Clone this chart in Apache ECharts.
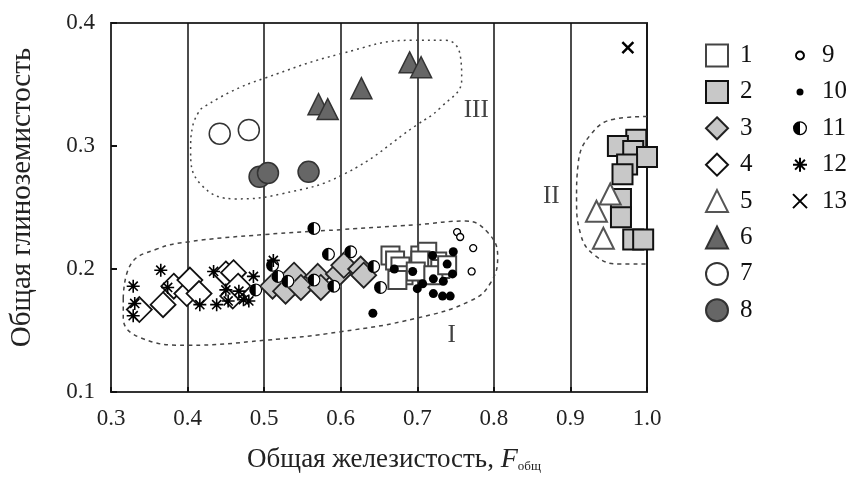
<!DOCTYPE html>
<html><head><meta charset="utf-8">
<script src="https://cdn.jsdelivr.net/npm/echarts@6/dist/echarts.min.js"></script>
<style>html,body{margin:0;padding:0;background:#fff}#c{width:846px;height:479px}</style>
</head><body><div id="c"></div>
<script>
const seriesNames = ['1','2','3','4','5','6','7','8','9','10','11','12','13'];
const s1 = [[0.665,0.211],[0.671,0.207],[0.678,0.202],[0.682,0.195],[0.704,0.211],[0.713,0.214],[0.704,0.207],[0.726,0.206],[0.730,0.200],[0.698,0.198],[0.721,0.195],[0.739,0.203],[0.674,0.191]];
const s2 = [[0.986,0.305],[0.962,0.300],[0.982,0.296],[1.000,0.291],[0.974,0.285],[0.968,0.277],[0.966,0.257],[0.966,0.242],[0.982,0.224],[0.995,0.224]];
const s3 = [[0.511,0.186],[0.528,0.182],[0.539,0.195],[0.548,0.185],[0.570,0.194],[0.574,0.185],[0.597,0.196],[0.604,0.203],[0.626,0.200],[0.630,0.195]];
const s4 = [[0.337,0.167],[0.368,0.171],[0.382,0.186],[0.399,0.180],[0.403,0.191],[0.415,0.180],[0.450,0.196],[0.460,0.197],[0.459,0.178],[0.466,0.186]];
const s5 = [[0.952,0.261],[0.934,0.247],[0.943,0.225]];
const s6 = [[0.571,0.334],[0.583,0.330],[0.627,0.347],[0.690,0.368],[0.705,0.364]];
const s7 = [[0.442,0.310],[0.480,0.313]];
const s8 = [[0.494,0.275],[0.505,0.278],[0.558,0.279]];
const s9 = [[0.752,0.230],[0.756,0.226],[0.773,0.217],[0.771,0.198]];
const s10 = [[0.670,0.200],[0.694,0.198],[0.720,0.211],[0.747,0.214],[0.739,0.204],[0.746,0.196],[0.721,0.192],[0.707,0.188],[0.700,0.184],[0.734,0.190],[0.721,0.180],[0.733,0.178],[0.743,0.178],[0.642,0.164]];
const s11 = [[0.565,0.233],[0.511,0.203],[0.518,0.194],[0.489,0.183],[0.531,0.190],[0.565,0.191],[0.584,0.212],[0.613,0.214],[0.591,0.186],[0.643,0.202],[0.652,0.185]];
const s12 = [[0.329,0.162],[0.331,0.172],[0.329,0.186],[0.365,0.199],[0.374,0.185],[0.416,0.171],[0.434,0.198],[0.438,0.171],[0.450,0.183],[0.453,0.174],[0.467,0.182],[0.473,0.175],[0.480,0.174],[0.486,0.194],[0.512,0.207]];
const s13 = [[0.975,0.380]];

const envelopeI = [[0.316,0.176],[0.326,0.204],[0.359,0.216],[0.400,0.222],[0.500,0.228],[0.600,0.232],[0.699,0.236],[0.763,0.239],[0.793,0.229],[0.805,0.210],[0.795,0.188],[0.769,0.174],[0.699,0.160],[0.600,0.149],[0.500,0.142],[0.400,0.138],[0.339,0.144],[0.316,0.160],[0.316,0.176]];
const envelopeII = [[1.000,0.324],[0.958,0.322],[0.926,0.309],[0.910,0.285],[0.908,0.257],[0.913,0.229],[0.932,0.211],[0.965,0.204],[1.000,0.204]];
const envelopeIII = [[0.417,0.330],[0.456,0.344],[0.500,0.355],[0.600,0.375],[0.695,0.386],[0.737,0.386],[0.756,0.374],[0.758,0.354],[0.730,0.331],[0.699,0.317],[0.604,0.277],[0.522,0.261],[0.463,0.257],[0.417,0.269],[0.404,0.297],[0.407,0.317],[0.417,0.330]];
const regionLabels = [{name:'I', value:[0.745,0.146]},{name:'II', value:[0.875,0.259]},{name:'III', value:[0.777,0.329]}];

const SERIF = '"Liberation Serif","DejaVu Serif",serif';
const HALF = 'path://M50 0A50 50 0 0 0 50 100Z M50 0A50 50 0 0 1 50 100L50 91A41 41 0 0 0 50 9Z';
const STAR = 'path://M0 50L100 50M50 0L50 100M15 15L85 85M15 85L85 15';
const CROSS = 'path://M0 0L100 100M0 100L100 0';

function sc(name, data, symbol, size, fill, border, bw, z) {
  return {type:'scatter', name:name, data:data, symbol:symbol, symbolSize:size, clip:false, z:z,
    itemStyle:{color:fill, borderColor:border, borderWidth:bw, opacity:1}, emphasis:{disabled:true}};
}
function env(data, dash) {
  return {type:'line', data:data, smooth:0.45, symbol:'none', z:1, silent:true,
    lineStyle:{color:'#444', width:1.5, type:dash}};
}

const chart = echarts.init(document.getElementById('c'), null, {renderer:'canvas'});
chart.setOption({
  animation:false,
  backgroundColor:'#fff',
  grid:{left:110, top:23, right:199, bottom:85, show:true, borderColor:'#333', borderWidth:2, backgroundColor:'transparent'},
  xAxis:{type:'value', min:0.3, max:1.0, interval:0.1,
    axisLine:{show:true, onZero:false, lineStyle:{color:'#333', width:2}},
    axisTick:{show:true, inside:true, length:5, lineStyle:{color:'#111', width:2}},
    splitLine:{show:true, lineStyle:{color:'#111', width:1.5}},
    axisLabel:{fontFamily:SERIF, fontSize:23, color:'#222', margin:15, formatter:v=>v.toFixed(1)},
    name:'{a|Общая железистость, }{f|F}{s|общ}', nameLocation:'middle', nameGap:54,
    nameTextStyle:{padding:[0,0,0,30], rich:{
      a:{fontFamily:SERIF, fontSize:27, color:'#222'},
      f:{fontFamily:SERIF, fontSize:28, fontStyle:'italic', color:'#222'},
      s:{fontFamily:SERIF, fontSize:13, color:'#222', padding:[14,0,0,0]}}}
  },
  yAxis:{type:'value', min:0.1, max:0.4, interval:0.1,
    axisLine:{show:true, onZero:false, lineStyle:{color:'#333', width:2}},
    axisTick:{show:true, inside:true, length:6, lineStyle:{color:'#111', width:2}},
    splitLine:{show:false},
    axisLabel:{fontFamily:SERIF, fontSize:23, color:'#222', margin:16, formatter:v=>v.toFixed(1)},
    name:'Общая глиноземистость', nameLocation:'middle', nameGap:74, nameRotate:90,
    nameTextStyle:{fontFamily:SERIF, fontSize:29, color:'#222', padding:[0,0,0,20]}
  },
  legend:[
    {orient:'vertical', left:700, top:38, itemWidth:22, itemHeight:22, itemGap:11.4,
     data:['1','2','3','4','5','6','7','8'], selectedMode:false,
     textStyle:{fontFamily:SERIF, fontSize:25, lineHeight:25, color:'#111', padding:[0,0,0,7]}},
    {orient:'vertical', left:787, top:38, itemWidth:14, itemHeight:14, itemGap:11.4,
     data:[{name:'9', icon:'path://M30 30A20 20 0 1 1 70 70A20 20 0 1 1 30 30ZM0 0M100 100'},
           {name:'10', icon:'path://M25 50A25 25 0 1 1 75 50A25 25 0 1 1 25 50ZM0 0M100 100'},
           '11','12','13'], selectedMode:false,
     textStyle:{fontFamily:SERIF, fontSize:25, lineHeight:25, color:'#111', padding:[0,0,0,10]}}
  ],
  series:[
    env(envelopeI, [4,4]), env(envelopeII, [4,4]), env(envelopeIII, [2,4]),
    {type:'scatter', data:regionLabels, symbolSize:1, itemStyle:{color:'transparent'}, z:2, silent:true,
     label:{show:true, position:'inside', formatter:'{b}', fontFamily:SERIF, fontSize:25, color:'#111'}},
    sc('4', s4, 'diamond', 25, '#fff', '#111', 1.8, 3),
    sc('3', s3, 'diamond', 25, '#c6c6c6', '#222', 1.8, 4),
    sc('1', s1, 'rect', 18, '#fff', '#444', 2, 5),
    sc('2', s2, 'rect', 20, '#c8c8c8', '#111', 2, 5),
    sc('5', s5, 'triangle', 21, '#fff', '#555', 2, 5),
    sc('6', s6, 'triangle', 21, '#666', '#333', 1.5, 5),
    sc('7', s7, 'circle', 21, '#fff', '#333', 1.5, 5),
    sc('8', s8, 'circle', 21, '#666', '#333', 1.5, 5),
    sc('11w', s11, 'circle', 13, '#fff', 'transparent', 0, 6),
    sc('11', s11, HALF, 13, '#000', 'transparent', 0, 7),
    sc('12', s12, STAR, 13, 'transparent', '#000', 1.6, 7),
    sc('9', s9, 'circle', 7, '#fff', '#000', 1.3, 8),
    sc('10', s10, 'circle', 9, '#000', '#000', 0, 8),
    sc('13', s13, CROSS, 11, 'transparent', '#000', 2.5, 8)
  ]
});
</script></body></html>
